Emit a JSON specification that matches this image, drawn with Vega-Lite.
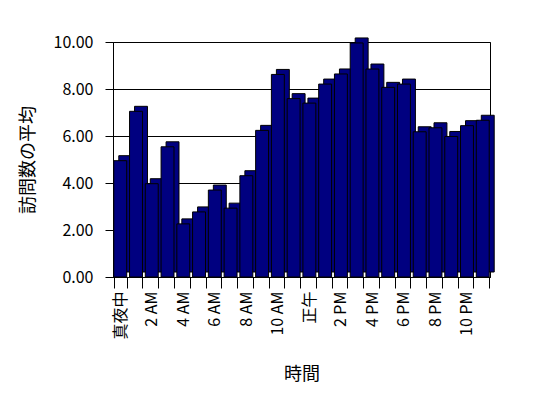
{
  "$schema": "https://vega.github.io/schema/vega-lite/v6.json",
  "autosize": "none",
  "width": 377,
  "height": 235,
  "padding": {"left": 113, "top": 42, "right": 58, "bottom": 121},
  "background": "white",
  "config": {
    "font": "Noto Sans CJK JP",
    "view": {"stroke": "black", "strokeWidth": 1},
    "axis": {"domainColor": "black", "tickColor": "black", "labelColor": "black", "titleColor": "black", "labelFont": "Noto Sans CJK JP", "titleFont": "Noto Sans CJK JP", "labelFontSize": 16, "titleFontSize": 18, "titleFontWeight": "normal"}
  },
  "data": {"values": [
    {"hour": 0, "avg": 4.95},
    {"hour": 1, "avg": 7.05},
    {"hour": 2, "avg": 3.97},
    {"hour": 3, "avg": 5.54},
    {"hour": 4, "avg": 2.26},
    {"hour": 5, "avg": 2.77},
    {"hour": 6, "avg": 3.70},
    {"hour": 7, "avg": 2.93},
    {"hour": 8, "avg": 4.31},
    {"hour": 9, "avg": 6.24},
    {"hour": 10, "avg": 8.62},
    {"hour": 11, "avg": 7.59},
    {"hour": 12, "avg": 7.40},
    {"hour": 13, "avg": 8.21},
    {"hour": 14, "avg": 8.64},
    {"hour": 15, "avg": 9.96},
    {"hour": 16, "avg": 8.85},
    {"hour": 17, "avg": 8.07},
    {"hour": 18, "avg": 8.21},
    {"hour": 19, "avg": 6.18},
    {"hour": 20, "avg": 6.35},
    {"hour": 21, "avg": 5.98},
    {"hour": 22, "avg": 6.44},
    {"hour": 23, "avg": 6.67}
  ]},
  "encoding": {
    "x": {
      "field": "hour", "type": "ordinal", "title": "時間",
      "scale": {"paddingInner": 0.18, "paddingOuter": 0.05},
      "axis": {
        "labelAngle": -90,
        "labelExpr": "['真夜中','','2 AM','','4 AM','','6 AM','','8 AM','','10 AM','','正午','','2 PM','','4 PM','','6 PM','','8 PM','','10 PM',''][datum.value]",
        "tickBand": "extent", "tickSize": 11, "labelPadding": 3, "titlePadding": 26, "domain": true
      }
    },
    "y": {
      "field": "avg", "type": "quantitative", "title": "訪問数の平均",
      "scale": {"domain": [0, 10]},
      "axis": {"values": [0, 2, 4, 6, 8, 10], "format": ".2f", "grid": true, "gridColor": "black", "gridOpacity": 1, "tickSize": 8, "labelPadding": 12, "titlePadding": 16}
    }
  },
  "layer": [
    {"mark": {"type": "bar", "color": "#000080", "stroke": "black", "strokeWidth": 1, "xOffset": 5, "yOffset": -5}},
    {"mark": {"type": "bar", "color": "#000080", "stroke": "black", "strokeWidth": 1}}
  ]
}
